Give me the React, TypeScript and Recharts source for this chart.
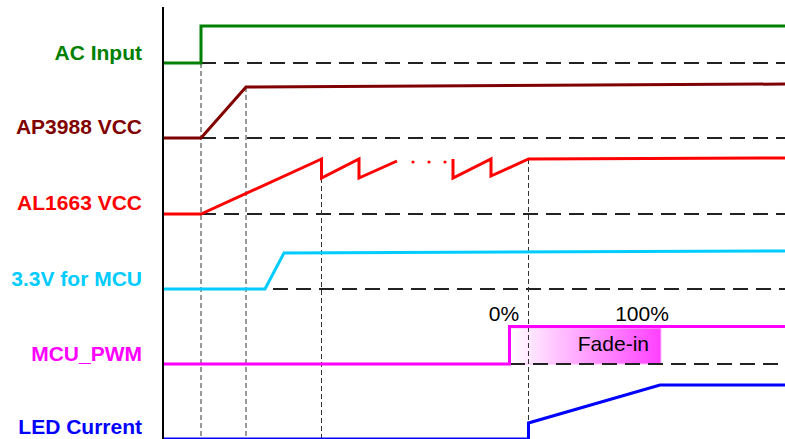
import React from 'react'
import {
  ComposedChart,
  Line,
  XAxis,
  YAxis,
  ReferenceLine,
  ReferenceArea,
  ReferenceDot,
} from 'recharts'

// time axis in arbitrary units, level axis in arbitrary units (height above each row baseline)
const ROW_LABELS = ['AC Input', 'AP3988 VCC', 'AL1663 VCC', '3.3V for MCU', 'MCU_PWM', 'LED Current']
const ROW_COLORS = ['#008000', '#800000', '#ff0000', '#00ccff', '#ff00ff', '#0000ff']
const ROW_BASES = [376, 301, 225, 150, 75, 0]
const LABEL_DY = [-3, -4, -4, -3, -3, 4]

const acInput = [
  { t: 0, v: 0 },
  { t: 38, v: 0 },
  { t: 38, v: 37 },
  { t: 622, v: 37 },
]
const ap3988Vcc = [
  { t: 0, v: 0 },
  { t: 38, v: 0 },
  { t: 83, v: 51 },
  { t: 622, v: 54 },
]
const al1663Vcc = [
  { t: 0, v: 0 },
  { t: 38, v: 0 },
  { t: 158.5, v: 55 },
  { t: 158.5, v: 36 },
  { t: 196, v: 55 },
  { t: 196, v: 36 },
  { t: 234, v: 53 },
  { t: 262, v: null },
  { t: 290, v: 55 },
  { t: 290, v: 36 },
  { t: 328, v: 55 },
  { t: 328, v: 38 },
  { t: 365.5, v: 55 },
  { t: 622, v: 56 },
]
const al1663Dots = [
  { t: 250, v: 52 },
  { t: 266, v: 52 },
  { t: 282, v: 52 },
]
const mcu33v = [
  { t: 0, v: 0 },
  { t: 102, v: 0 },
  { t: 121, v: 36 },
  { t: 622, v: 38 },
]
const mcuPwm = [
  { t: 0, v: 0 },
  { t: 346.5, v: 0 },
  { t: 346.5, v: 37.5 },
  { t: 622, v: 37.5 },
]
const ledCurrent = [
  { t: 0, v: 0 },
  { t: 365.5, v: 0 },
  { t: 365.5, v: 16 },
  { t: 497, v: 54 },
  { t: 622, v: 54 },
]

const SIGNALS = [acInput, ap3988Vcc, al1663Vcc, mcu33v, mcuPwm, ledCurrent]

// dashed low-level references: row and start time
const baseRefs = [
  { row: 0, from: 38 },
  { row: 1, from: 38 },
  { row: 2, from: 38 },
  { row: 3, from: 110 },
  { row: 4, from: 347 },
]
// vertical event markers: time and top level
const eventMarks = [
  { t: 38, top: 376 },
  { t: 83, top: 352 },
  { t: 158.5, top: 261 },
  { t: 365.5, top: 280 },
]
const fadeIn = { t1: 347.5, t2: 498, low: 0, high: 36 }
const pctLabels = [
  { t: 341, v: 50.5, text: '0%' },
  { t: 479, v: 50, text: '100%' },
]

const FONT = '"Liberation Sans", Arial, sans-serif'

const toRow = (row: number, pts: { t: number; v: number | null }[]) =>
  pts.map((p) => ({ t: p.t, y: p.v === null ? null : ROW_BASES[row] + p.v }))

function RowTick(props: any) {
  const idx = ROW_BASES.indexOf(props.payload.value)
  return (
    <text
      x={142}
      y={props.y + LABEL_DY[idx]}
      textAnchor="end"
      fill={ROW_COLORS[idx]}
      fontFamily={FONT}
      fontWeight="bold"
      fontSize={21}
    >
      {ROW_LABELS[idx]}
    </text>
  )
}

export default function App() {
  return (
    <div style={{ position: 'absolute', left: 0, top: 0, background: '#fff' }}>
      <ComposedChart width={785} height={439} margin={{ top: 7, right: 0, bottom: 0, left: 0 }}>
        <defs>
          <linearGradient id="fadeGrad" x1="0" y1="0" x2="1" y2="0">
            <stop offset="0%" stopColor="#ffffff" />
            <stop offset="100%" stopColor="#ff40ff" />
          </linearGradient>
        </defs>
        <XAxis type="number" dataKey="t" domain={[0, 622]} hide allowDataOverflow />
        <YAxis
          type="number"
          domain={[0, 432]}
          ticks={ROW_BASES}
          width={163}
          axisLine={{ stroke: '#000', strokeWidth: 2 }}
          tickLine={false}
          tick={<RowTick />}
          allowDataOverflow
        />
        <ReferenceArea
          x1={fadeIn.t1}
          x2={fadeIn.t2}
          y1={ROW_BASES[4] + fadeIn.low}
          y2={ROW_BASES[4] + fadeIn.high}
          fill="url(#fadeGrad)"
          fillOpacity={1}
          stroke="#ffb8ff"
          strokeWidth={1}
          label={{ value: 'Fade-in', position: 'insideRight', offset: 12, dy: -2, fill: '#000', fontSize: 21, fontFamily: FONT }}
        />
        {baseRefs.map((r) => (
          <ReferenceLine
            key={'b' + r.row}
            segment={[
              { x: r.from, y: ROW_BASES[r.row] },
              { x: 622, y: ROW_BASES[r.row] },
            ]}
            stroke="#222"
            strokeWidth={2}
            strokeDasharray="15 8"
          />
        ))}
        {eventMarks.map((m) => (
          <ReferenceLine
            key={'e' + m.t}
            segment={[
              { x: m.t, y: m.top },
              { x: m.t, y: 0 },
            ]}
            stroke="#333"
            strokeWidth={1}
            strokeDasharray="5 3"
          />
        ))}
        {SIGNALS.map((s, i) => (
          <Line
            key={ROW_LABELS[i]}
            data={toRow(i, s)}
            dataKey="y"
            type="linear"
            stroke={ROW_COLORS[i]}
            strokeWidth={3}
            dot={false}
            activeDot={false}
            connectNulls={false}
            isAnimationActive={false}
          />
        ))}
        {al1663Dots.map((d) => (
          <ReferenceDot key={'d' + d.t} x={d.t} y={ROW_BASES[2] + d.v} r={1.6} fill="#ff0000" stroke="none" />
        ))}
        {pctLabels.map((p) => (
          <ReferenceDot
            key={p.text}
            x={p.t}
            y={ROW_BASES[4] + p.v}
            r={0}
            fill="none"
            stroke="none"
            label={{ value: p.text, position: 'center', fill: '#000', fontSize: 21, fontFamily: FONT }}
          />
        ))}
      </ComposedChart>
    </div>
  )
}
